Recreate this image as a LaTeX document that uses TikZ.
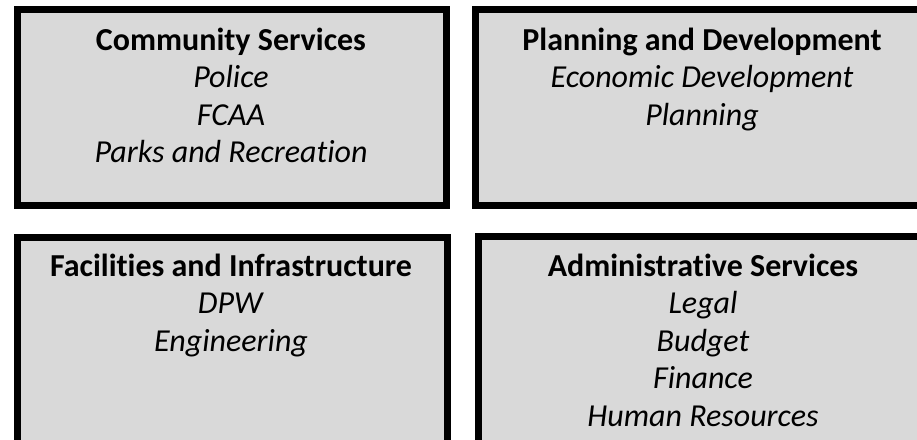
\documentclass[tikz,border=0pt]{standalone}
\usepackage{fontspec}
\setmainfont{Carlito}[Ligatures=NoCommon, Contextuals=NoAlternate]
\definecolor{deptgray}{HTML}{D9D9D9}
\begin{document}
\begin{tikzpicture}
        [%%%%%%%%%%%%%%%%%%%%%%%%%%%%%%
            x=1pt, y=-1pt,
            dept/.style={draw=black, fill=deptgray, line width=7pt},
            unit/.style={anchor=north, inner sep=0pt, align=center, font=\fontsize{32}{37.5}\selectfont},
        ]%%%%%%%%%%%%%%%%%%%%%%%%%%%%%%

        \useasboundingbox (0,0) rectangle (917,439);
        \clip (0,0) rectangle (917,439);

        \draw[dept] (17.5,9.5) rectangle (446.5,205.5);
        \draw[dept] (475.5,9.5) rectangle (940,205.5);
        \draw[dept] (17.5,237.5) rectangle (447.5,470);
        \draw[dept] (478.5,236.5) rectangle (940,470);

        \node[unit] (community) at (231,23.75) {\strut\textbf{Community Services}\\\textit{Police}\\\textit{FCAA}\\\textit{Parks and Recreation}};
        \node[unit] (planning) at (702,23.75) {\strut\textbf{Planning and Development}\\\textit{Economic Development}\\\textit{Planning}};
        \node[unit] (facilities) at (231,249.75) {\strut\textbf{Facilities and Infrastructure}\\\textit{DPW}\\\textit{Engineering}};
        \node[unit] (admin) at (703,249.75) {\strut\textbf{Administrative Services}\\\textit{Legal}\\\textit{Budget}\\\textit{Finance}\\\textit{Human Resources}};
    \end{tikzpicture}
\end{document}
